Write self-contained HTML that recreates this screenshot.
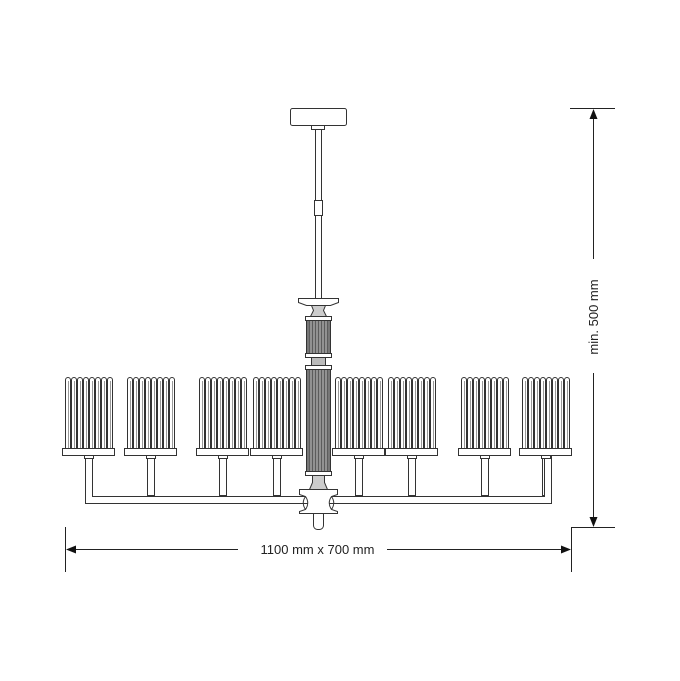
<!DOCTYPE html>
<html><head><meta charset="utf-8"><style>html,body{margin:0;padding:0;background:#fff}svg{display:block}</style></head>
<body>
<svg width="680" height="681" viewBox="0 0 680 681" xmlns="http://www.w3.org/2000/svg">
<defs>
<g id="sh" fill="#fff" stroke="#333" stroke-width="1">
<path d="M0.5,71V3a2.5,2.5 0 0 1 5,0V71 M6.5,71V3a2.5,2.5 0 0 1 5,0V71 M12.5,71V3a2.5,2.5 0 0 1 5,0V71 M18.5,71V3a2.5,2.5 0 0 1 5,0V71 M24.5,71V3a2.5,2.5 0 0 1 5,0V71 M30.5,71V3a2.5,2.5 0 0 1 5,0V71 M36.5,71V3a2.5,2.5 0 0 1 5,0V71 M42.5,71V3a2.5,2.5 0 0 1 5,0V71"/>
<path d="M3.5,4V71 M9.5,4V71 M15.5,4V71 M21.5,4V71 M27.5,4V71 M33.5,4V71 M39.5,4V71 M45.5,4V71" stroke="#999"/>
<rect x="-2.5" y="71.5" width="52" height="7"/>
<rect x="19.5" y="78.5" width="9" height="3"/>
</g>
<g id="stem" fill="#fff" stroke="#333"><rect x="20.5" y="81.5" width="7" height="37"/></g>
</defs>
<g fill="none" stroke="#333" stroke-width="1">
<rect x="290.5" y="108.5" width="56" height="17" rx="2" fill="#fff"/>
<rect x="311.5" y="125.5" width="13" height="4" fill="#fff"/>
<rect x="315.5" y="129.5" width="6" height="170" fill="#fff"/>
<rect x="314.5" y="200.5" width="8" height="15" fill="#fff"/>
</g>
<use href="#stem" x="65" y="377"/><use href="#stem" x="127" y="377"/><use href="#stem" x="199" y="377"/><use href="#stem" x="253" y="377"/><use href="#stem" x="335" y="377"/><use href="#stem" x="388" y="377"/><use href="#stem" x="461" y="377"/><use href="#stem" x="522" y="377"/>
<rect x="86" y="459" width="6" height="44" fill="#fff"/><rect x="545" y="459" width="6" height="44" fill="#fff"/>
<path d="M85.5,456V503.5H551.5V456 M92.5,456V496.5H544.5V456" fill="none" stroke="#333"/>
<use href="#sh" x="65" y="377"/><use href="#sh" x="127" y="377"/><use href="#sh" x="199" y="377"/><use href="#sh" x="253" y="377"/><use href="#sh" x="335" y="377"/><use href="#sh" x="388" y="377"/><use href="#sh" x="461" y="377"/><use href="#sh" x="522" y="377"/>
<g stroke="#333" fill="#fff">
<path d="M298.5,298.5H338.5V302.5L330.5,305.5H306.5L298.5,302.5Z"/>
<path d="M311.5,305.5H325.5L323.5,310.5L326.5,316.5H310.5L313.5,310.5Z" fill="#ccc"/>
<rect x="305.5" y="316.5" width="26" height="4"/>
<rect x="306.5" y="320.5" width="24" height="33" fill="#777"/>
<rect x="305.5" y="353.5" width="26" height="4"/>
<rect x="311.5" y="357.5" width="14" height="8" fill="#bbb"/>
<rect x="305.5" y="365.5" width="26" height="4"/>
<rect x="306.5" y="369.5" width="24" height="102" fill="#777"/>
<rect x="305.5" y="471.5" width="26" height="4"/>
<path d="M312.5,475.5H324.5V482.5L327.5,489.5H309.5L312.5,482.5Z" fill="#ccc"/>
<rect x="313.5" y="510.5" width="10" height="19" rx="4"/>
<path d="M299.5,489.5H337.5V494.5L331.5,496.5Q327,503 331.5,509.5L337.5,511.5V513.5H299.5V511.5L305.5,509.5Q310,503 305.5,496.5L299.5,494.5Z"/>
<path d="M305.5,496.5Q301,503 305.5,509.5 M331.5,496.5Q336,503 331.5,509.5" fill="none"/>
</g>
<g stroke="#555" stroke-width="0.8">
<path d="M309.5,321V353M312.5,321V353M315.5,321V353M318.5,321V353M321.5,321V353M324.5,321V353M327.5,321V353"/>
<path d="M309.5,370V471M312.5,370V471M315.5,370V471M318.5,370V471M321.5,370V471M324.5,370V471M327.5,370V471"/>
</g>
<g stroke="#bbb" stroke-width="0.8">
<path d="M311,321V353M314,321V353M317,321V353M320,321V353M323,321V353M326,321V353"/>
<path d="M311,370V471M314,370V471M317,370V471M320,370V471M323,370V471M326,370V471"/>
</g>
<g stroke="#222" stroke-width="1" fill="none">
<path d="M570,108.5H615 M571,527.5H615 M593.5,117V259 M593.5,373V518 M65.5,527V572 M571.5,527V572 M74,549.5H238 M387,549.5H562"/>
</g>
<g fill="#111">
<path d="M593.5,109L589.5,119H597.5Z"/>
<path d="M593.5,527L589.5,517H597.5Z"/>
<path d="M66,549.5L76,545.5V553.5Z"/>
<path d="M571,549.5L561,545.5V553.5Z"/>
</g>
<text x="317.5" y="554" font-family="Liberation Sans, sans-serif" font-size="13" fill="#222" text-anchor="middle">1100 mm x 700 mm</text>
<text transform="translate(598,317) rotate(-90)" font-family="Liberation Sans, sans-serif" font-size="13" fill="#222" text-anchor="middle">min. 500 mm</text>
</svg>
</body></html>
